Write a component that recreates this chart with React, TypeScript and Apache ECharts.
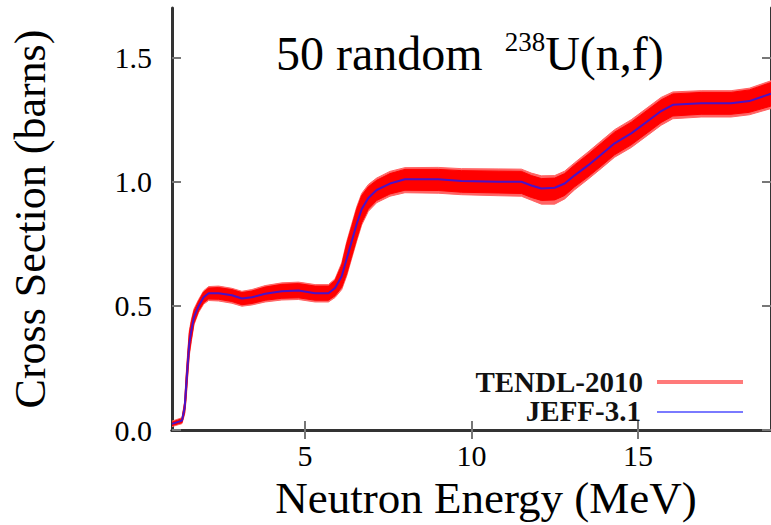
import React, { useEffect, useRef } from "react";
import * as echarts from "echarts";

const energy = [1.0, 1.3, 1.38, 1.42, 1.47, 1.52, 1.58, 1.66, 1.8, 1.95, 2.1, 2.4, 2.8, 3.1, 3.4, 3.8, 4.3, 4.8, 5.3, 5.7, 5.9, 6.1, 6.25, 6.4, 6.55, 6.7, 6.9, 7.15, 7.55, 8.0, 9.0, 9.7, 10.8, 11.5, 11.8, 12.1, 12.5, 12.8, 13.1, 13.5, 13.9, 14.3, 14.8, 15.3, 15.7, 16.05, 16.9, 17.8, 18.35, 19.0];

const jeff = [0.025, 0.038, 0.09, 0.165, 0.26, 0.35, 0.40, 0.455, 0.50, 0.535, 0.551, 0.551, 0.543, 0.53, 0.535, 0.549, 0.559, 0.562, 0.551, 0.551, 0.572, 0.62, 0.69, 0.76, 0.83, 0.89, 0.935, 0.967, 0.993, 1.01, 1.01, 1.003, 1.0, 1.0, 0.985, 0.973, 0.976, 0.993, 1.026, 1.066, 1.11, 1.155, 1.195, 1.245, 1.285, 1.31, 1.316, 1.316, 1.325, 1.355];

const tendlInnerLo = [0.018, 0.030, 0.070, 0.125, 0.220, 0.310, 0.365, 0.430, 0.480, 0.513, 0.528, 0.527, 0.518, 0.505, 0.510, 0.523, 0.531, 0.533, 0.523, 0.523, 0.541, 0.575, 0.630, 0.700, 0.770, 0.835, 0.890, 0.925, 0.951, 0.966, 0.965, 0.958, 0.955, 0.953, 0.937, 0.925, 0.927, 0.945, 0.980, 1.020, 1.064, 1.109, 1.149, 1.199, 1.239, 1.265, 1.272, 1.272, 1.280, 1.305];
const tendlInnerHi = [0.032, 0.046, 0.110, 0.205, 0.300, 0.390, 0.435, 0.480, 0.520, 0.556, 0.572, 0.574, 0.566, 0.554, 0.560, 0.576, 0.587, 0.590, 0.580, 0.580, 0.603, 0.665, 0.750, 0.820, 0.890, 0.945, 0.980, 1.006, 1.033, 1.050, 1.050, 1.045, 1.043, 1.042, 1.025, 1.013, 1.015, 1.033, 1.068, 1.110, 1.155, 1.200, 1.240, 1.290, 1.330, 1.354, 1.360, 1.360, 1.370, 1.400];
const tendlOuterLo = [0.014, 0.026, 0.064, 0.115, 0.210, 0.300, 0.356, 0.424, 0.474, 0.507, 0.522, 0.520, 0.511, 0.499, 0.504, 0.516, 0.524, 0.526, 0.516, 0.516, 0.534, 0.566, 0.621, 0.691, 0.761, 0.826, 0.881, 0.916, 0.942, 0.956, 0.954, 0.948, 0.944, 0.942, 0.926, 0.910, 0.910, 0.931, 0.968, 1.010, 1.054, 1.099, 1.138, 1.188, 1.228, 1.254, 1.261, 1.261, 1.270, 1.295];
const tendlOuterHi = [0.036, 0.050, 0.116, 0.214, 0.310, 0.400, 0.444, 0.488, 0.526, 0.561, 0.578, 0.580, 0.571, 0.559, 0.566, 0.582, 0.593, 0.596, 0.586, 0.586, 0.609, 0.674, 0.759, 0.829, 0.899, 0.953, 0.989, 1.015, 1.042, 1.057, 1.058, 1.053, 1.052, 1.051, 1.035, 1.024, 1.025, 1.043, 1.077, 1.120, 1.165, 1.210, 1.250, 1.300, 1.340, 1.362, 1.367, 1.367, 1.377, 1.407];

const xTicks = [5, 10, 15];
const yTicks = [0, 0.5, 1.0, 1.5];

const FONT = '"Liberation Serif", "DejaVu Serif", serif';

function bandSeries(name: string, lo: number[], hi: number[], color: string, z: number) {
  return {
    name,
    type: "custom",
    coordinateSystem: "cartesian2d",
    silent: true,
    z,
    clip: true,
    data: [[energy[0], lo[0]]],
    renderItem: (params: any, api: any) => {
      const pts: number[][] = [];
      for (let i = 0; i < energy.length; i++) pts.push(api.coord([energy[i], hi[i]]));
      for (let i = energy.length - 1; i >= 0; i--) pts.push(api.coord([energy[i], lo[i]]));
      return {
        type: "polygon",
        shape: { points: pts },
        style: { fill: color, stroke: color, lineWidth: 1 },
      };
    },
  };
}

export default function App() {
  const ref = useRef<HTMLDivElement>(null);
  useEffect(() => {
    if (!ref.current) return;
    const chart = echarts.init(ref.current, null, { renderer: "svg" });
    const pairs = (ys: number[]) => energy.map((e, i) => [e, ys[i]]);
    const axisLine = { show: true, lineStyle: { color: "#333", width: 3 } };
    const tickStyle = { color: "#777", width: 2 };
    chart.setOption({
      animation: false,
      title: {
        text: "{m|50 random }{s|238}{m|U(n,f)}",
        left: 276,
        top: 28,
        padding: 0,
        textStyle: {
          fontWeight: "normal",
          rich: {
            m: { fontSize: 48, fontFamily: FONT, fontWeight: "normal", color: "#000", lineHeight: 50 },
            s: { fontSize: 27, fontFamily: FONT, fontWeight: "normal", color: "#000", verticalAlign: "top", padding: [0, 0, 0, 10] },
          },
        },
      },
      grid: { left: 166, top: 8, width: 609, height: 426, containLabel: false },
      xAxis: [
        {
          type: "value", min: 1, max: 19, position: "bottom",
          axisLine,
          axisTick: { show: true, inside: true, length: 9, lineStyle: tickStyle, customValues: xTicks },
          axisLabel: { customValues: xTicks, fontSize: 30, fontFamily: FONT, color: "#000", margin: 10 },
          splitLine: { show: false },
          name: "Neutron Energy (MeV)", nameLocation: "middle", nameGap: 38,
          nameTextStyle: { fontSize: 45, fontFamily: FONT, color: "#000", padding: [0, 0, 0, 29] },
        },
        {
          type: "value", min: 1, max: 19, position: "top",
          axisLine,
          axisTick: { show: true, inside: true, length: 9, lineStyle: tickStyle, customValues: xTicks },
          axisLabel: { show: false },
          splitLine: { show: false },
        },
      ],
      yAxis: [
        {
          type: "value", min: 0, max: 1.7, position: "left",
          axisLine,
          axisTick: { show: true, inside: true, length: 9, lineStyle: tickStyle, customValues: yTicks },
          axisLabel: { customValues: yTicks, fontSize: 30, fontFamily: FONT, color: "#000", margin: 20, formatter: (v: number) => v.toFixed(1) },
          splitLine: { show: false },
          name: "Cross Section (barns)", nameLocation: "middle", nameGap: 120,
          nameTextStyle: { fontSize: 44, fontFamily: FONT, color: "#000" },
        },
        {
          type: "value", min: 0, max: 1.7, position: "right",
          axisLine,
          axisTick: { show: true, inside: true, length: 9, lineStyle: tickStyle, customValues: yTicks },
          axisLabel: { show: false },
          splitLine: { show: false },
        },
      ],
      series: [
        bandSeries("TENDL-2010 spread", tendlOuterLo, tendlOuterHi, "#ff6464", 2),
        bandSeries("TENDL-2010", tendlInnerLo, tendlInnerHi, "#ff0000", 3),
        { name: "JEFF-3.1", type: "line", data: pairs(jeff), symbol: "none", lineStyle: { color: "#4a12c8", width: 2 }, z: 5 },
      ],
      graphic: [
        { type: "text", z: 100, style: { text: "TENDL-2010", x: 643, y: 382, align: "right", verticalAlign: "middle", textAlign: "right", textVerticalAlign: "middle", font: 'bold 29px "Liberation Serif", serif', fill: "#111" } },
        { type: "text", z: 100, style: { text: "JEFF-3.1", x: 641, y: 411, align: "right", verticalAlign: "middle", textAlign: "right", textVerticalAlign: "middle", font: 'bold 29px "Liberation Serif", serif', fill: "#111" } },
        { type: "line", z: 100, shape: { x1: 657, y1: 382, x2: 743, y2: 382 }, style: { stroke: "#ff7a7a", lineWidth: 4 } },
        { type: "line", z: 100, shape: { x1: 657, y1: 412, x2: 743, y2: 412 }, style: { stroke: "#7a7aff", lineWidth: 2 } },
      ],
    });
    return () => chart.dispose();
  }, []);
  return <div ref={ref} style={{ width: 771, height: 525, position: "absolute", left: 0, top: 0 }} />;
}
